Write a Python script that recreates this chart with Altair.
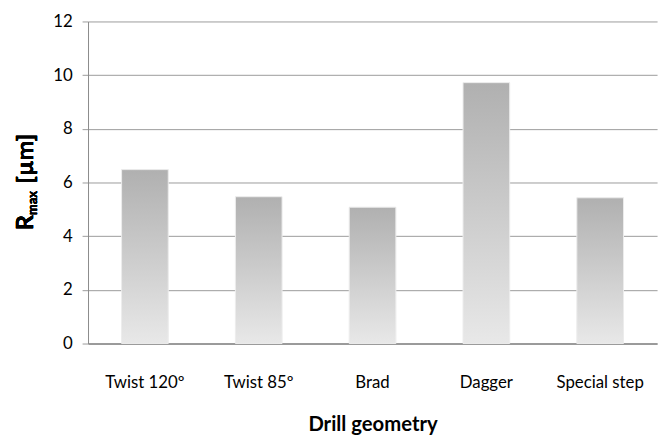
import altair as alt
import pandas as pd

categories = ["Twist 120º", "Twist 85º", "Brad", "Dagger", "Special step"]
rmax_values = [6.48, 5.47, 5.08, 9.72, 5.43]
y_ticks = [0, 2, 4, 6, 8, 10, 12]

df = pd.DataFrame({"geometry": categories, "rmax": rmax_values})

FONT = "Lato"
W, H = 576, 326

gradient = alt.Gradient(
    gradient="linear",
    stops=[
        alt.GradientStop(color="#b0b0b0", offset=0),
        alt.GradientStop(color="#e8e8e8", offset=1),
    ],
    x1=0, x2=0, y1=0, y2=1,
)

bars = alt.Chart(df).mark_bar(
    color=gradient, stroke="#ececec", strokeWidth=1
).encode(
    x=alt.X(
        "geometry:N",
        sort=categories,
        scale=alt.Scale(paddingInner=0.59, paddingOuter=0.295),
        axis=alt.Axis(
            title="Drill geometry",
            labelAngle=0,
            labelFont=FONT,
            labelFontSize=17,
            labelColor="#000000",
            labelPadding=32,
            ticks=False,
            domainColor="#8a8a8a",
            domainWidth=1.5,
            titleFont=FONT,
            titleFontSize=20.5,
            titleFontWeight="bold",
            titleColor="#000000",
            titlePadding=24,
        ),
    ),
    y=alt.Y(
        "rmax:Q",
        scale=alt.Scale(domain=[0, 12], nice=False),
        axis=alt.Axis(
            title=None,
            values=y_ticks,
            labelFont=FONT,
            labelFontSize=17,
            labelColor="#000000",
            labelPadding=10,
            tickSize=6,
            tickColor="#9a9a9a",
            domainColor="#8a8a8a",
            gridColor="#9a9a9a",
            gridWidth=1,
        ),
    ),
)

title_R = alt.Chart(df).mark_text(
    text="R", angle=270, align="right", baseline="alphabetic",
    font=FONT, fontSize=24, fontWeight="bold", color="#000000",
).encode(x=alt.value(-56), y=alt.value(196))

title_sub = alt.Chart(df).mark_text(
    text="max", angle=270, align="left", baseline="alphabetic",
    font=FONT, fontSize=13, fontWeight="bold", color="#000000",
).encode(x=alt.value(-52), y=alt.value(196))

title_unit = alt.Chart(df).mark_text(
    text="[µm]", angle=270, align="left", baseline="alphabetic",
    font=FONT, fontSize=24, fontWeight="bold", color="#000000",
).encode(x=alt.value(-56), y=alt.value(164))

chart = alt.layer(bars, title_R, title_sub, title_unit).properties(
    width=W,
    height=H,
    autosize=alt.AutoSizeParams(type="none"),
    padding={"left": 81, "top": 11, "right": 6, "bottom": 93},
).configure_view(stroke=None).configure_axis(grid=True).configure_axisX(grid=False)

chart.save("out.html", embed_options={"renderer": "svg", "actions": False})
